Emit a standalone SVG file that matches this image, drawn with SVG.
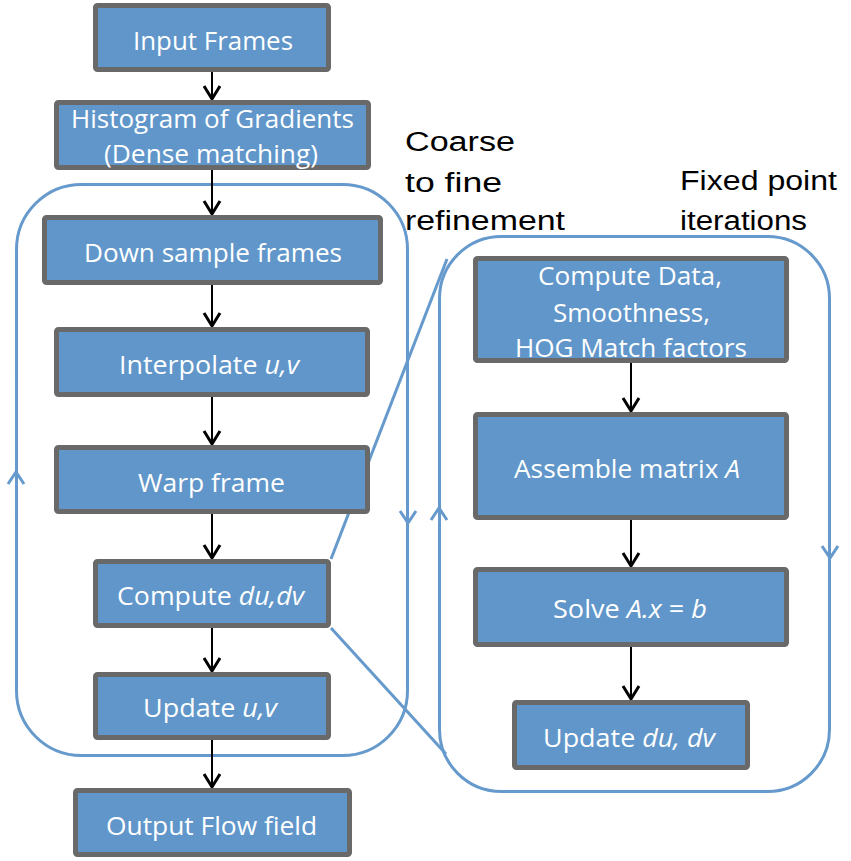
<svg xmlns="http://www.w3.org/2000/svg" width="851" height="861" viewBox="0 0 851 861">
<style>
.box{fill:#6096C9;stroke:#696969;stroke-width:5}
.bt{font-family:"Open Sans","Liberation Sans",sans-serif;font-size:26px;fill:#FFFFFF;text-anchor:middle}
.lbl{font-family:"Liberation Sans",Arial,sans-serif;font-size:27px;fill:#000000}
.loop{fill:none;stroke:#6699CC;stroke-width:3}
.arr{fill:none;stroke:#000000;stroke-width:2}
.head{fill:none;stroke:#000000;stroke-width:3}
.lhead{fill:none;stroke:#6699CC;stroke-width:3}
</style>
<rect width="851" height="861" fill="#FFFFFF"/>
<g id="loops">
<rect class="loop" x="16.5" y="184.5" width="391" height="571" rx="65" ry="65"/>
<rect class="loop" x="439.5" y="236.5" width="390" height="555" rx="62" ry="62"/>
<path class="lhead" d="M8,484 L16,472 L24,484"/>
<path class="lhead" d="M400,511 L408,523 L416,511"/>
<path class="lhead" d="M431,520 L439,508 L447,520"/>
<path class="lhead" d="M822,546 L830,558 L838,546"/>
<line class="loop" x1="331" y1="559" x2="447" y2="259"/>
<line class="loop" x1="331" y1="628" x2="446" y2="754"/>
</g>
<g id="connectors">
<line class="arr" x1="212" y1="72" x2="212" y2="100"/><path class="head" d="M204,86 L212,99 L220,86"/>
<line class="arr" x1="212" y1="170" x2="212" y2="215"/><path class="head" d="M204,201 L212,214 L220,201"/>
<line class="arr" x1="212" y1="285" x2="212" y2="327"/><path class="head" d="M204,313 L212,326 L220,313"/>
<line class="arr" x1="212" y1="397" x2="212" y2="445"/><path class="head" d="M204,431 L212,444 L220,431"/>
<line class="arr" x1="212" y1="514" x2="212" y2="559"/><path class="head" d="M204,545 L212,558 L220,545"/>
<line class="arr" x1="212" y1="628" x2="212" y2="672"/><path class="head" d="M204,658 L212,671 L220,658"/>
<line class="arr" x1="212" y1="740" x2="212" y2="788"/><path class="head" d="M204,774 L212,787 L220,774"/>
<line class="arr" x1="631" y1="363" x2="631" y2="412"/><path class="head" d="M623,398 L631,411 L639,398"/>
<line class="arr" x1="631" y1="520" x2="631" y2="567"/><path class="head" d="M623,553 L631,566 L639,553"/>
<line class="arr" x1="631" y1="647" x2="631" y2="700"/><path class="head" d="M623,686 L631,699 L639,686"/>
</g>
<g id="input-frames"><rect class="box" x="95.5" y="5.5" width="233" height="64" rx="2"/><text class="bt" x="213" y="50" textLength="160" lengthAdjust="spacingAndGlyphs">Input Frames</text></g>
<g id="hog"><rect class="box" x="56.5" y="102.5" width="312" height="65" rx="2"/><text class="bt" x="212.5" y="128" textLength="283" lengthAdjust="spacingAndGlyphs">Histogram of Gradients</text><text class="bt" x="211" y="163" textLength="214" lengthAdjust="spacingAndGlyphs">(Dense matching)</text></g>
<g id="down-sample"><rect class="box" x="44.5" y="217.5" width="336" height="65" rx="2"/><text class="bt" x="213" y="262" textLength="258" lengthAdjust="spacingAndGlyphs">Down sample frames</text></g>
<g id="interpolate"><rect class="box" x="56.5" y="329.5" width="311" height="65" rx="2"/><text class="bt" x="209" y="374" textLength="180" lengthAdjust="spacingAndGlyphs">Interpolate <tspan font-style="italic">u,v</tspan></text></g>
<g id="warp"><rect class="box" x="56.5" y="447.5" width="311" height="64" rx="2"/><text class="bt" x="211.5" y="492" textLength="147" lengthAdjust="spacingAndGlyphs">Warp frame</text></g>
<g id="compute-dudv"><rect class="box" x="95.5" y="561.5" width="233" height="64" rx="2"/><text class="bt" x="210.5" y="605" textLength="187" lengthAdjust="spacingAndGlyphs">Compute <tspan font-style="italic">du,dv</tspan></text></g>
<g id="update-uv"><rect class="box" x="95.5" y="674.5" width="233" height="63" rx="2"/><text class="bt" x="210" y="717" textLength="134" lengthAdjust="spacingAndGlyphs">Update <tspan font-style="italic">u,v</tspan></text></g>
<g id="output"><rect class="box" x="75.5" y="790.5" width="274" height="64" rx="2"/><text class="bt" x="211.5" y="835" textLength="211" lengthAdjust="spacingAndGlyphs">Output Flow field</text></g>
<g id="compute-data"><rect class="box" x="475.5" y="258.5" width="311" height="102" rx="2"/><text class="bt" x="630" y="285" textLength="184" lengthAdjust="spacingAndGlyphs">Compute Data,</text><text class="bt" x="631.5" y="322" textLength="157" lengthAdjust="spacingAndGlyphs">Smoothness,</text><text class="bt" x="631" y="357" textLength="232" lengthAdjust="spacingAndGlyphs">HOG Match factors</text></g>
<g id="assemble"><rect class="box" x="475.5" y="414.5" width="311" height="103" rx="2"/><text class="bt" x="627" y="478" textLength="226" lengthAdjust="spacingAndGlyphs">Assemble matrix <tspan font-style="italic">A</tspan></text></g>
<g id="solve"><rect class="box" x="475.5" y="569.5" width="311" height="75" rx="2"/><text class="bt" x="630" y="618" textLength="154" lengthAdjust="spacingAndGlyphs">Solve <tspan font-style="italic">A.x</tspan> = <tspan font-style="italic">b</tspan></text></g>
<g id="update-dudv"><rect class="box" x="514.5" y="702.5" width="233" height="65" rx="2"/><text class="bt" x="629" y="747" textLength="172" lengthAdjust="spacingAndGlyphs">Update <tspan font-style="italic">du, dv</tspan></text></g>
<g id="labels">
<text class="lbl" x="405" y="151" textLength="110" lengthAdjust="spacingAndGlyphs">Coarse</text>
<text class="lbl" x="405" y="192" textLength="97" lengthAdjust="spacingAndGlyphs">to fine</text>
<text class="lbl" x="405" y="230" textLength="160" lengthAdjust="spacingAndGlyphs">refinement</text>
<text class="lbl" x="680" y="190" textLength="157" lengthAdjust="spacingAndGlyphs">Fixed point</text>
<text class="lbl" x="680" y="230" textLength="127" lengthAdjust="spacingAndGlyphs">iterations</text>
</g>
</svg>
